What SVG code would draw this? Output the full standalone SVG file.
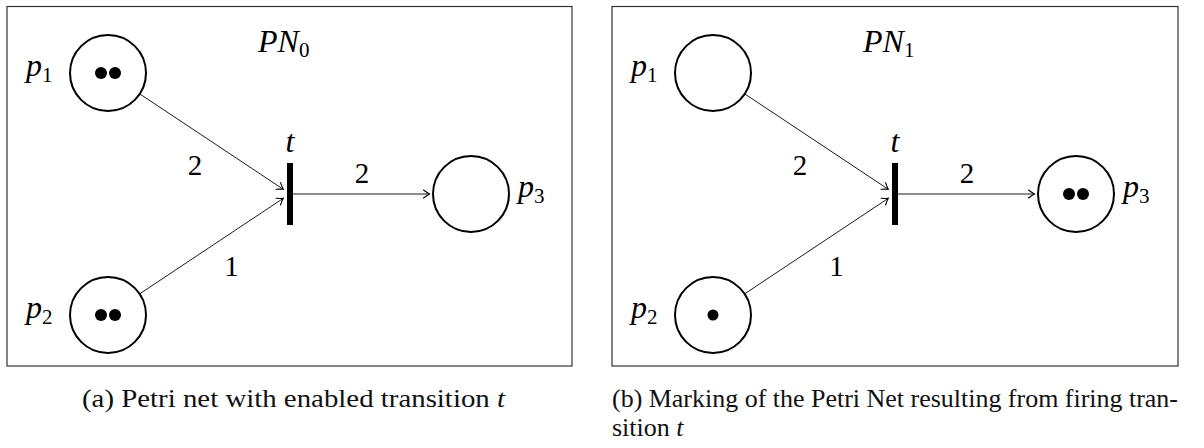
<svg xmlns="http://www.w3.org/2000/svg" width="1204" height="448" viewBox="0 0 1204 448">
<style>
.frame{fill:none;stroke:#333;stroke-width:1.2}
.place{fill:#fff;stroke:#000;stroke-width:2}
.tok{fill:#000}
.bar{fill:#000}
.arc{fill:none;stroke:#000;stroke-width:0.9}
.m{font-family:"Liberation Serif","Times New Roman",serif;font-style:italic;font-size:32px;fill:#000}
.n{font-family:"Liberation Serif","Times New Roman",serif;font-style:normal;font-size:29px;fill:#000}
.s{font-family:"Liberation Serif","Times New Roman",serif;font-style:normal;font-size:21px}
.cap{font-family:"Liberation Serif","Times New Roman",serif;font-size:26px;fill:#111}
</style>
<defs>
<marker id="ah" markerUnits="userSpaceOnUse" markerWidth="12" markerHeight="12" viewBox="-8 -6 10 12" refX="0" refY="0" orient="auto">
<path d="M -6 -4 Q -2 -1 0 0 Q -2 1 -6 4" fill="none" stroke="#000" stroke-width="1.1" stroke-linecap="round"/>
</marker>
</defs>

<g id="panelA">
<rect class="frame" x="7" y="6.5" width="565" height="359.5"/>
<text class="m" x="258" y="52">PN<tspan class="s" dy="5" font-style="normal">0</tspan></text>
<g id="a-p1">
<circle class="place" cx="108" cy="73" r="38"/>
<circle class="tok" cx="101" cy="73" r="6"/>
<circle class="tok" cx="115" cy="73" r="6"/>
<text class="m" x="26" y="76">p<tspan class="s" dy="6" font-style="normal">1</tspan></text>
</g>
<g id="a-p2">
<circle class="place" cx="108" cy="315" r="38"/>
<circle class="tok" cx="101" cy="315" r="6"/>
<circle class="tok" cx="115" cy="315" r="6"/>
<text class="m" x="26" y="318">p<tspan class="s" dy="6" font-style="normal">2</tspan></text>
</g>
<g id="a-p3">
<circle class="place" cx="471" cy="194" r="38"/>
<text class="m" x="518" y="197">p<tspan class="s" dy="6" font-style="normal">3</tspan></text>
</g>
<g id="a-t">
<rect class="bar" x="287" y="163" width="6" height="62"/>
<text class="m" x="290" y="152" text-anchor="middle">t</text>
</g>
<g id="a-arcs">
<line class="arc" x1="139.6" y1="93.8" x2="283.3" y2="189.3" marker-end="url(#ah)"/>
<line class="arc" x1="139.6" y1="293.9" x2="283.3" y2="198.3" marker-end="url(#ah)"/>
<line class="arc" x1="293" y1="194" x2="429.5" y2="194" marker-end="url(#ah)"/>
<text class="n" x="195" y="175" text-anchor="middle">2</text>
<text class="n" x="231.5" y="276" text-anchor="middle">1</text>
<text class="n" x="362" y="183" text-anchor="middle">2</text>
</g>
<text class="cap" x="82" y="407" textLength="423" lengthAdjust="spacingAndGlyphs">(a) Petri net with enabled transition <tspan font-style="italic">t</tspan></text>
</g>

<g id="panelB">
<rect class="frame" x="612" y="6.5" width="566" height="359.5"/>
<text class="m" x="863" y="52">PN<tspan class="s" dy="5" font-style="normal">1</tspan></text>
<g id="b-p1">
<circle class="place" cx="713" cy="73" r="38"/>
<text class="m" x="631" y="76">p<tspan class="s" dy="6" font-style="normal">1</tspan></text>
</g>
<g id="b-p2">
<circle class="place" cx="713" cy="315" r="38"/>
<circle class="tok" cx="713" cy="315" r="5.5"/>
<text class="m" x="631" y="318">p<tspan class="s" dy="6" font-style="normal">2</tspan></text>
</g>
<g id="b-p3">
<circle class="place" cx="1076" cy="194" r="38"/>
<circle class="tok" cx="1069" cy="194" r="6"/>
<circle class="tok" cx="1083" cy="194" r="6"/>
<text class="m" x="1123" y="197">p<tspan class="s" dy="6" font-style="normal">3</tspan></text>
</g>
<g id="b-t">
<rect class="bar" x="892" y="163" width="6" height="62"/>
<text class="m" x="895" y="152" text-anchor="middle">t</text>
</g>
<g id="b-arcs">
<line class="arc" x1="744.6" y1="93.8" x2="888.3" y2="189.3" marker-end="url(#ah)"/>
<line class="arc" x1="744.6" y1="293.9" x2="888.3" y2="198.3" marker-end="url(#ah)"/>
<line class="arc" x1="898" y1="194" x2="1034.5" y2="194" marker-end="url(#ah)"/>
<text class="n" x="800" y="175" text-anchor="middle">2</text>
<text class="n" x="836.5" y="276" text-anchor="middle">1</text>
<text class="n" x="967" y="183" text-anchor="middle">2</text>
</g>
<text class="cap" x="612" y="407" textLength="566" lengthAdjust="spacingAndGlyphs">(b) Marking of the Petri Net resulting from firing tran-</text>
<text class="cap" x="612" y="436">sition <tspan font-style="italic">t</tspan></text>
</g>
</svg>
